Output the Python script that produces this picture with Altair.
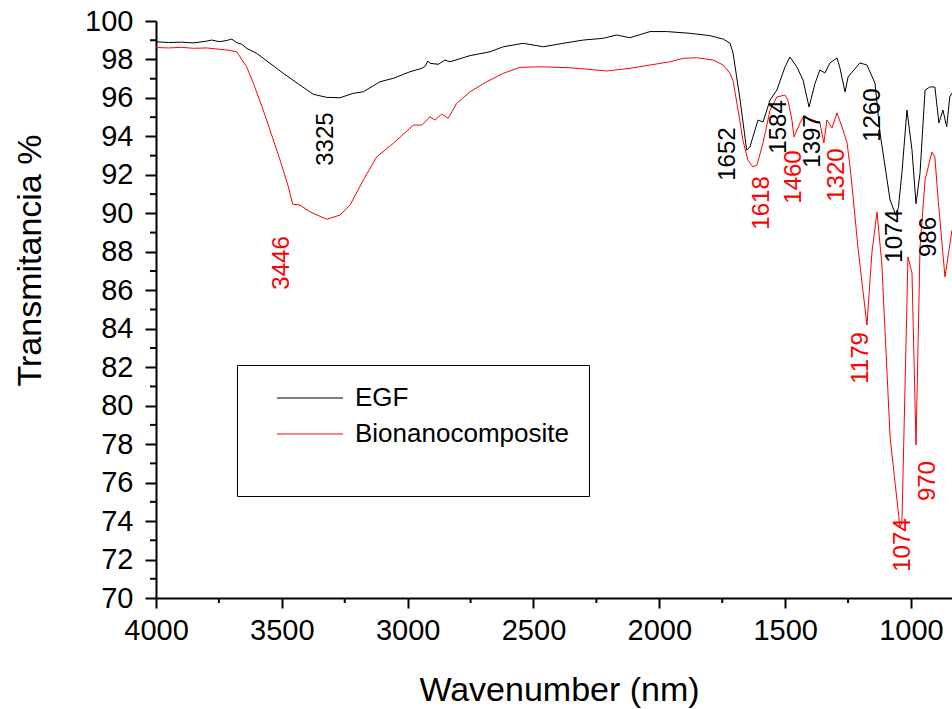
import altair as alt
import pandas as pd

# ---- EGF (black) spectrum: wavenumber, transmittance ----
egf_wn = [4000, 3950, 3900, 3850, 3800, 3779, 3750, 3734, 3715, 3699, 3679, 3660, 3640, 3600,
          3547, 3494, 3428, 3375, 3322, 3269, 3216, 3176, 3110, 3057, 2991, 2944, 2930, 2920,
          2911, 2878, 2852, 2832, 2752, 2673, 2620, 2541, 2461, 2382, 2302, 2223, 2170, 2117,
          2037, 1971, 1878, 1799, 1746, 1719, 1707, 1679, 1653, 1640, 1608, 1588, 1560, 1533,
          1501, 1481, 1453, 1429, 1405, 1381, 1362, 1342, 1322, 1294, 1283, 1262, 1250, 1203,
          1175, 1143, 1123, 1083, 1060, 1050, 1036, 1016, 996, 980, 964, 944, 925, 905, 889,
          873, 858, 846, 837]
egf_t = [98.92, 98.88, 98.90, 98.86, 98.95, 99.01, 98.93, 98.95, 99.00, 99.06, 98.87, 98.80, 98.58, 98.32,
         97.80, 97.28, 96.67, 96.19, 96.03, 96.01, 96.24, 96.32, 96.84, 97.02, 97.36, 97.54, 97.65, 97.92,
         97.80, 97.75, 97.97, 97.88, 98.20, 98.40, 98.66, 98.84, 98.66, 98.84, 99.01, 99.10, 99.27, 99.13,
         99.45, 99.45, 99.36, 99.24, 99.06, 98.84, 98.34, 95.89, 93.29, 93.45, 94.85, 94.75, 95.89, 96.41,
         97.60, 98.13, 97.60, 96.93, 95.53, 96.77, 97.45, 97.30, 97.82, 98.08, 97.60, 96.31, 97.09, 97.82,
         97.71, 96.77, 94.18, 90.69, 89.90, 90.30, 92.10, 95.37, 93.29, 90.50, 92.10, 96.41, 96.57, 96.57, 94.70,
         95.37, 94.49, 96.05, 96.25]

# ---- Bionanocomposite (red) spectrum ----
bio_wn = [4000, 3950, 3900, 3850, 3800, 3719, 3679, 3640, 3613, 3574, 3547, 3507, 3474, 3457,
          3428, 3388, 3322, 3269, 3229, 3176, 3123, 3057, 2977, 2944, 2911, 2891, 2865, 2839,
          2805, 2752, 2686, 2620, 2554, 2474, 2355, 2209, 2117, 2037, 1958, 1905, 1852, 1786,
          1746, 1719, 1707, 1687, 1668, 1648, 1628, 1612, 1588, 1560, 1533, 1501, 1489, 1473,
          1465, 1441, 1429, 1389, 1362, 1346, 1334, 1314, 1294, 1274, 1254, 1242, 1231, 1211,
          1175, 1155, 1135, 1116, 1083, 1044, 1036, 1012, 996, 980, 964, 944, 917, 905, 893,
          865, 837]
bio_t = [98.62, 98.60, 98.63, 98.58, 98.60, 98.49, 98.40, 97.62, 96.76, 95.37, 94.33, 92.77, 91.38, 90.48,
         90.43, 90.08, 89.69, 89.91, 90.43, 91.73, 92.94, 93.64, 94.59, 94.59, 95.02, 94.85, 95.16, 94.94,
         95.72, 96.32, 96.84, 97.28, 97.59, 97.62, 97.57, 97.40, 97.54, 97.71, 97.88, 98.06, 98.09, 97.97,
         97.71, 97.28, 96.90, 95.37, 93.81, 92.77, 92.41, 92.51, 93.66, 95.37, 96.05, 96.15, 95.89, 94.85,
         93.97, 94.70, 95.00, 94.85, 94.70, 93.66, 94.85, 94.44, 95.22, 94.49, 93.66, 92.41, 91.00, 88.25,
         84.19, 87.99, 90.07, 87.42, 78.37, 73.69, 73.89, 87.73, 86.90, 77.95, 88.25, 91.73, 93.19, 92.93, 90.85,
         86.69, 89.13]

series_names = ["EGF", "Bionanocomposite"]
series_colors = ["black", "red"]

# ---- peak annotations ----
ann_text = ["3325", "3446", "1652", "1618", "1584", "1460", "1397", "1320", "1260",
            "1074", "986", "1179", "970", "1074"]
ann_series = ["EGF", "Bionanocomposite", "EGF", "Bionanocomposite", "EGF", "Bionanocomposite",
              "EGF", "Bionanocomposite", "EGF", "EGF", "EGF", "Bionanocomposite",
              "Bionanocomposite", "Bionanocomposite"]
ann_x = [3325, 3499, 1727, 1592, 1525, 1465, 1389, 1294, 1151, 1064, 929, 1199, 933, 1032]
ann_y = [93.86, 87.42, 93.08, 90.54, 94.49, 91.89, 93.76, 91.99, 95.11, 88.82, 88.77, 82.48, 76.08, 72.75]

x_major = [4000, 3500, 3000, 2500, 2000, 1500, 1000]
x_minor = [3750, 3250, 2750, 2250, 1750, 1250]
y_major = list(range(70, 101, 2))
y_minor = list(range(71, 100, 2))

FONT = "Liberation Sans"

df = pd.concat([
    pd.DataFrame({"wn": egf_wn, "t": egf_t, "series": "EGF"}),
    pd.DataFrame({"wn": bio_wn, "t": bio_t, "series": "Bionanocomposite"}),
])
color_map = dict(zip(series_names, series_colors))
ann_df = pd.DataFrame({"wn": ann_x, "t": ann_y, "label": ann_text,
                       "col": [color_map[s] for s in ann_series]})

xscale = alt.Scale(domain=[4000, 837], nice=False, zero=False)
yscale = alt.Scale(domain=[70, 100], nice=False, zero=False)

x_axis = alt.Axis(values=x_major, format="d", title="Wavenumber (nm)", grid=False,
                  labelFont=FONT, labelFontSize=29, labelColor="black", labelPadding=8,
                  tickSize=10, tickWidth=2, tickColor="black", domainWidth=2, domainColor="black",
                  titleFont=FONT, titleFontSize=34, titleFontWeight="normal", titleColor="black",
                  titleX=403, titleY=102, titleAlign="center", titleBaseline="alphabetic",
                  labelFlush=False, labelOverlap=False)
y_axis = alt.Axis(values=y_major, format="d", title="Transmitancia %", grid=False,
                  labelFont=FONT, labelFontSize=29, labelColor="black", labelPadding=12,
                  tickSize=11, tickWidth=2, tickColor="black", domainWidth=2, domainColor="black",
                  titleFont=FONT, titleFontSize=34, titleFontWeight="normal", titleColor="black",
                  titleX=-126, titleY=239, titleAngle=270, titleAlign="center",
                  titleBaseline="middle", labelFlush=False, labelOverlap=False)

X = alt.X("wn:Q", scale=xscale, axis=x_axis)
Y = alt.Y("t:Q", scale=yscale, axis=y_axis)

lines = alt.Chart(df).mark_line(strokeWidth=1, clip=True).encode(
    x=X, y=Y,
    color=alt.Color("series:N", scale=alt.Scale(domain=series_names, range=series_colors),
                    sort=series_names,
                    legend=alt.Legend(orient="none", legendX=81, legendY=344,
                                      title="\u00a0", titleLimit=800,
                                      titleOrient="bottom", titleFontSize=28, titlePadding=1,
                                      strokeColor="black", fillColor="white", padding=20,
                                      symbolType="M-3,0H3", symbolSize=484, symbolStrokeWidth=1,
                                      symbolFillColor="transparent",
                                      symbolOffset=40, labelFont=FONT, labelFontSize=26,
                                      labelColor="black", labelOffset=32, rowPadding=10,
                                      labelLimit=500)),
)

labels = alt.Chart(ann_df).mark_text(angle=270, font=FONT, fontSize=24, align="center",
                                      baseline="middle").encode(
    x=X, y=Y,
    text="label:N",
    color=alt.Color("col:N", scale=None),
)

xminor = alt.Chart(pd.DataFrame({"wn": x_minor})).mark_rule(color="black", strokeWidth=2).encode(
    x=X, y=alt.value(577), y2=alt.value(582))
yminor = alt.Chart(pd.DataFrame({"t": y_minor})).mark_rule(color="black", strokeWidth=2).encode(
    y=Y, x=alt.value(0), x2=alt.value(-6))

chart = alt.layer(lines, labels, xminor, yminor).properties(
    width=796, height=577,
    autosize=alt.AutoSizeParams(type="none"),
    padding={"left": 156, "top": 21, "right": 0, "bottom": 111},
).configure_view(stroke=None)

chart.save("out.html", embed_options={"renderer": "svg", "actions": False})
